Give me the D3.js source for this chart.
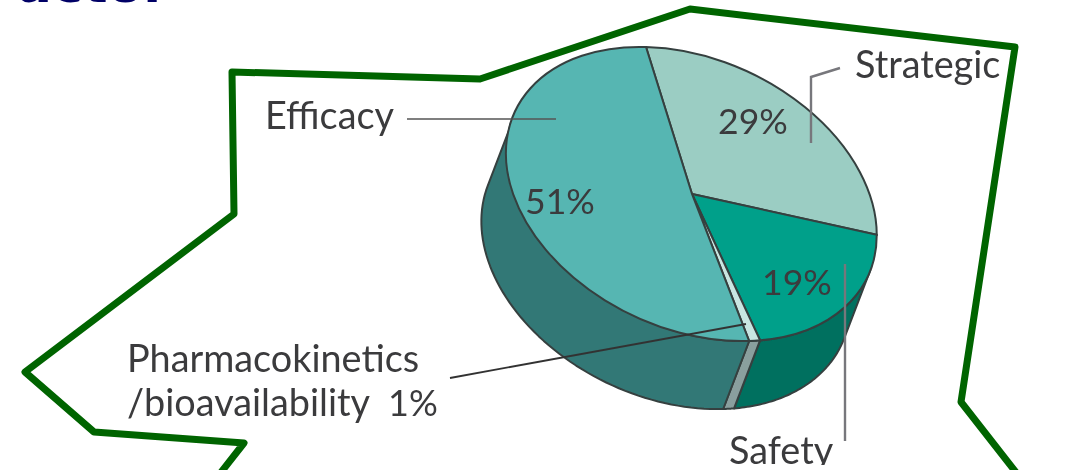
<!DOCTYPE html>
<html>
<head>
<meta charset="utf-8">
<script src="https://cdn.jsdelivr.net/npm/d3@7"></script>
<style>
  html, body { margin: 0; padding: 0; background: #fff; overflow: hidden; }
  text { font-family: Lato, "Open Sans", sans-serif; fill: #3a3a3c; }
</style>
</head>
<body>
<div id="main"></div>
<script>
const ctx = {
    WIDTH: 1071,
    HEIGHT: 470
}

// Chart values, clockwise from the top of the pie
const categories = ["Strategic", "Safety", "Pharmacokinetics/bioavailability", "Efficacy"];
const shares = [29, 19, 1, 51];
const shareLabels = ["29%", "19%", "1%", "51%"];
const topColors = ["#9bcdc3", "#00a08a", "#c9e6e2", "#56b6b2"];
const sideColors = ["#7fa8a0", "#00705f", "#8a9f9e", "#337876"];

// Ellipse of the tilted top face, fitted on the picture
const pie3d = {cx: 692, cy: 194, a: 194, b: 134.5, tilt: 25.2, dx: -26, dy: 68, start: -122.5};

const outline = [[215, 480], [244, 443], [94, 432], [25, 372], [234, 214], [232, 72], [480, 79], [690, 9], [1015, 47], [961, 402], [1022, 480]];

const rad = d3.scaleLinear().domain([0, 360]).range([0, 2 * Math.PI]);

// Unit circle point (d3.arc angle) to the screen
function project(angle, shifted) {
    const t = rad(pie3d.tilt);
    const u = pie3d.a * Math.sin(angle);
    const v = -pie3d.b * Math.cos(angle);
    const x = pie3d.cx + u * Math.cos(t) - v * Math.sin(t);
    const y = pie3d.cy + u * Math.sin(t) + v * Math.cos(t);
    return shifted ? [x + pie3d.dx, y + pie3d.dy] : [x, y];
}

function createViz() {
    const svg = d3.select("#main").append("svg")
        .attr("width", ctx.WIDTH)
        .attr("height", ctx.HEIGHT);

    const defs = svg.append("defs");
    defs.append("clipPath").attr("id", "safety-clip")
        .append("rect").attr("width", ctx.WIDTH).attr("height", 465);
    // The reference is a soft, upscaled bitmap
    defs.append("filter").attr("id", "soft")
        .attr("x", "-5%").attr("y", "-5%").attr("width", "110%").attr("height", "110%")
        .append("feGaussianBlur").attr("stdDeviation", 0.6);

    // Title remainder, cut by the top edge
    svg.append("text")
        .attr("x", 169).attr("y", 2)
        .attr("text-anchor", "end")
        .style("font-family", "'DejaVu Sans'")
        .style("font-weight", "bold")
        .style("font-size", "52px")
        .style("fill", "#000066")
        .text("Factor");

    svg.append("path")
        .attr("d", d3.line()(outline))
        .attr("fill", "none")
        .attr("stroke", "#006400")
        .attr("stroke-width", 7)
        .attr("stroke-linejoin", "round");

    const chart = svg.append("g").attr("filter", "url(#soft)");

    const slices = d3.pie().sort(null)
        .startAngle(rad(pie3d.start + 90))
        .endAngle(rad(pie3d.start + 90 + 360))(shares);

    // Side wall: only the part of the rim turned towards the viewer
    const visible = [rad(87), rad(267)];
    const side = chart.append("g");
    slices.forEach((s, i) => {
        const from = Math.max(s.startAngle, visible[0]);
        const to = Math.min(s.endAngle, visible[1]);
        if (to <= from) return;
        const steps = d3.range(0, 61).map(k => from + (to - from) * k / 60);
        const pts = steps.map(a => project(a, false)).concat(steps.slice().reverse().map(a => project(a, true)));
        side.append("path")
            .attr("d", d3.line()(pts) + "Z")
            .attr("fill", sideColors[i])
            .attr("stroke", "#36403f")
            .attr("stroke-width", 2)
            .attr("stroke-linejoin", "round");
    });

    // Top face: d3.arc on a unit circle, squeezed and tilted
    const arc = d3.arc().innerRadius(0).outerRadius(1);
    chart.append("g")
        .attr("transform", `translate(${pie3d.cx},${pie3d.cy}) rotate(${pie3d.tilt}) scale(${pie3d.a},${pie3d.b})`)
        .selectAll("path")
        .data(slices)
        .enter().append("path")
        .attr("d", arc)
        .attr("fill", (d, i) => topColors[i])
        .attr("stroke", "#36403f")
        .attr("stroke-width", 2)
        .attr("vector-effect", "non-scaling-stroke");

    // Leader lines
    const leaders = chart.append("g").attr("fill", "none");
    leaders.append("path").attr("d", d3.line()([[407, 119], [556, 119]]))
        .attr("stroke", "#555").attr("stroke-width", 1.6);
    leaders.append("path").attr("d", d3.line()([[840, 68], [811, 77], [811, 143]]))
        .attr("stroke", "#77777b").attr("stroke-width", 2.4);
    leaders.append("path").attr("d", d3.line()([[845, 264], [845, 441]]))
        .attr("stroke", "#77777b").attr("stroke-width", 2.4);
    leaders.append("path").attr("d", d3.line()([[450, 378], [746, 324]]))
        .attr("stroke", "#333").attr("stroke-width", 1.8);

    // Labels
    const label = (x, y, txt, size) => chart.append("text").attr("x", x).attr("y", y).style("font-size", size).text(txt);
    label(265, 129, categories[3], "37.8px");
    label(855, 78, categories[0], "37.8px");
    label(127, 372, "Pharmacokinetics", "37.8px");
    label(127, 416, "/bioavailability", "37.8px");
    label(388, 416, shareLabels[2], "36px");
    label(729, 464, categories[1], "37.8px").attr("clip-path", "url(#safety-clip)");
    label(718, 134, shareLabels[0], "35.6px");
    label(525, 214, shareLabels[3], "35.6px");
    label(762, 295, shareLabels[1], "35.6px");
}

createViz();
</script>
</body>
</html>
